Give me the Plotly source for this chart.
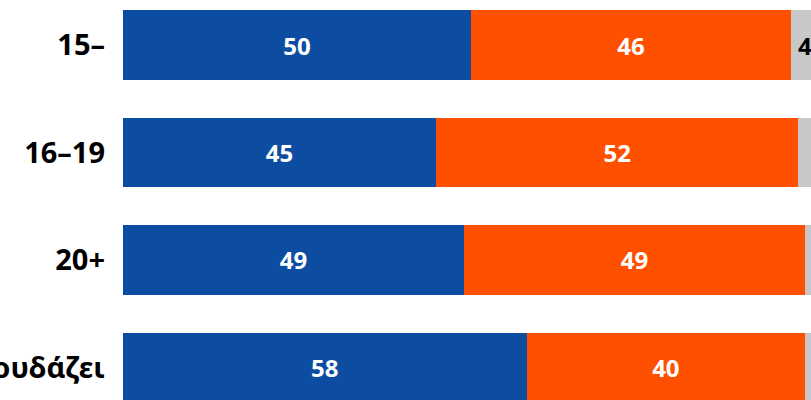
import plotly.graph_objects as go

categories = ["15–", "16–19", "20+", "Σπουδάζει"]
series_names = ["Α", "Β", "Γ"]
blue_vals = [50, 45, 49, 58]
orange_vals = [46, 52, 49, 40]
gray_vals = [4, 3, 2, 2]
colors = ["#0D4DA1", "#FF5000", "#C8C8C8"]
text_colors = ["white", "white", "black"]

fig = go.Figure()
for name, vals, col, tcol in zip(series_names, [blue_vals, orange_vals, gray_vals], colors, text_colors):
    fig.add_trace(go.Bar(
        y=categories, x=vals, name=name, orientation="h",
        marker=dict(color=col, line=dict(width=0)),
        text=[str(v) if v >= 4 else "" for v in vals],
        textposition="inside", insidetextanchor="middle",
        textfont=dict(color=tcol, size=24, family="Noto Sans", weight="bold"),
        constraintext="none",
        hoverinfo="skip",
    ))

fig.update_layout(
    barmode="stack", bargap=0.35,
    width=819, height=410,
    margin=dict(l=123, r=0, t=0, b=0),
    plot_bgcolor="white", paper_bgcolor="white",
    showlegend=False,
    font=dict(family="Noto Sans"),
)
fig.update_xaxes(range=[0, 100], visible=False, fixedrange=True)
fig.update_yaxes(
    range=[3.3954, -0.4186], showgrid=False, zeroline=False, showline=False,
    ticks="", ticklabelstandoff=17,
    tickfont=dict(size=29, color="black", family="Noto Sans", weight="bold"),
    automargin=False,
)
fig.write_html(
    "out.html",
    config={"displayModeBar": False},
    post_script="document.body.style.margin='0';document.body.style.overflow='hidden';",
)
